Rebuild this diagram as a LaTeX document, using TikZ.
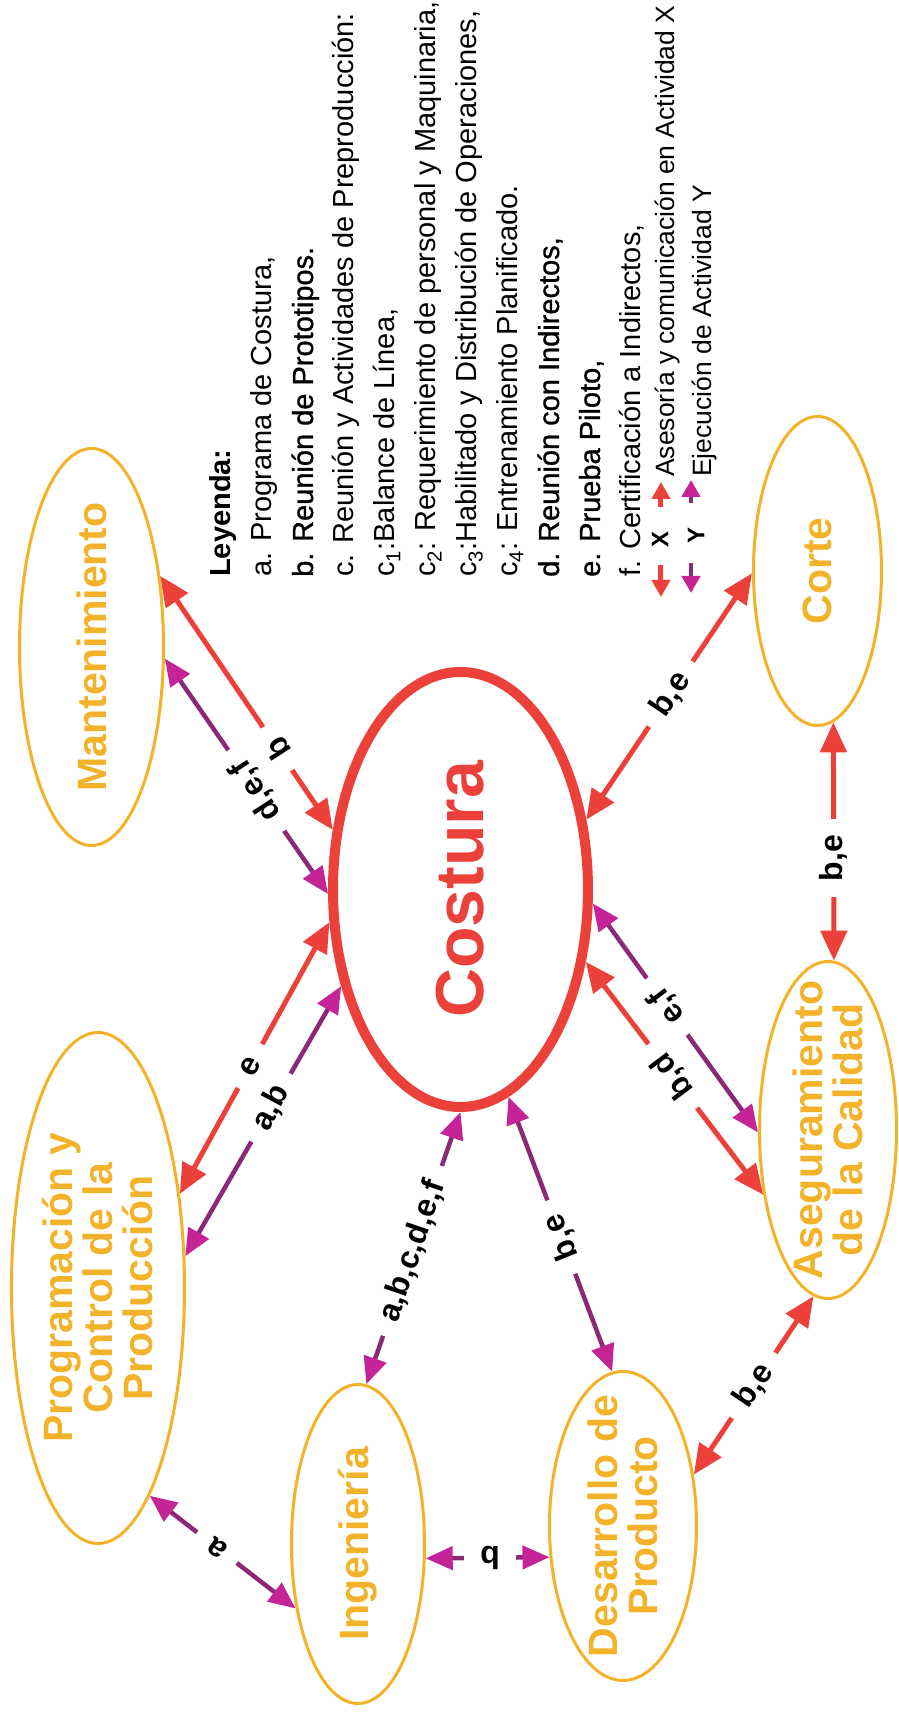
\documentclass[tikz,border=0pt]{standalone}
\usepackage{fontspec}
\setmainfont{Liberation Sans}
\newfontfamily\boldish[FakeBold=1]{Liberation Sans}
\usetikzlibrary{shapes.geometric,arrows.meta}
\definecolor{costred}{RGB}{236,64,58}
\definecolor{linkpurple}{RGB}{140,40,120}
\definecolor{tippurple}{RGB}{196,36,150}
\definecolor{deptorange}{RGB}{242,178,42}
\tikzset{
  dept/.style={ellipse, draw=deptorange, line width=3pt, inner sep=0pt},
  depttext/.style={text=deptorange, font=\fontsize{41}{40}\selectfont\bfseries, align=center},
  xlink/.style={draw=costred, line width=5pt, {Triangle[length=30pt,width=26pt]}-{Triangle[length=30pt,width=26pt]}},
  ylink/.style={draw=linkpurple, line width=4.5pt, {Triangle[length=27pt,width=23pt,color=tippurple]}-{Triangle[length=27pt,width=23pt,color=tippurple]}},
  linktag/.style={fill=white, font=\fontsize{32}{32}\selectfont\bfseries, inner xsep=16pt, inner ysep=0pt},
  legline/.style={anchor=base west, font=\fontsize{29}{41}\selectfont, inner sep=0pt},
  legx/.style={draw=costred, line width=5pt, -{Triangle[length=17pt,width=18pt]}},
  legy/.style={draw=linkpurple, line width=4.5pt, -{Triangle[length=17pt,width=18pt,color=tippurple]}},
}
\begin{document}
\begin{tikzpicture}[x=1pt, y=1pt, rotate=90, transform shape, line join=round]
\useasboundingbox (0,0) rectangle (1713,899);
% areas
\node[dept, minimum width=397pt, minimum height=144pt, label={[depttext]center:Mantenimiento}] (mant) at (1066,807.5) {};
\node[dept, minimum width=511pt, minimum height=173pt, label={[depttext]center:Programación y\\Control de la\\Producción}] (prog) at (425,801) {};
\node[dept, minimum width=319pt, minimum height=133pt, label={[depttext]center:Ingeniería}] (inge) at (169,541) {};
\node[dept, minimum width=309pt, minimum height=147pt, label={[depttext]center:Desarrollo de\\Producto}] (desa) at (187,276) {};
\node[dept, minimum width=337pt, minimum height=137pt, label={[depttext]center:Aseguramiento\\de la Calidad}] (aseg) at (583,71) {};
\node[dept, minimum width=309pt, minimum height=128pt, label={[depttext]center:Corte}] (corte) at (1142,81.5) {};
\node[ellipse, draw=costred, line width=10pt, inner sep=0pt, minimum width=435pt, minimum height=255pt,
      text=costred, font=\fontsize{68}{68}\selectfont\bfseries] (cost) at (823.5,438.5) {Costura};
% links
\draw[xlink] (mant.316) -- node[linktag, pos=.68, rotate=33]{b} (cost.65);
\draw[ylink] (mant.261) -- node[linktag, pos=.56, rotate=33]{d,e,f} (cost.92);
\draw[xlink] (prog.319) -- node[linktag, pos=.47, rotate=-29]{e} (cost.104);
\draw[ylink] (prog.290) -- node[linktag, pos=.55, rotate=-28]{a,b} (cost.129);
\draw[ylink] (inge.357) -- node[linktag, pos=.49, rotate=-19]{a,b,c,d,e,f} (cost.180);
\draw[ylink] (desa.4) -- node[linktag, pos=.49, rotate=22]{b,e} (cost.193);
\draw[xlink] (aseg.135) -- node[linktag, pos=.51, rotate=37]{b,d} (cost.240);
\draw[ylink] (aseg.92) -- node[linktag, pos=.55, rotate=37]{e,f} (cost.264);
\draw[xlink] (corte.92) -- node[linktag, pos=.49, rotate=-34]{b,e} (cost.299);
\draw[xlink] (corte.186) -- node[linktag, pos=.57]{b,e} (aseg.358);
\draw[xlink] (aseg.175) -- node[linktag, pos=.5, rotate=-34]{b,e} (desa.306);
\draw[ylink] (prog.194) -- node[linktag, pos=.46, rotate=54]{a} (inge.136);
\draw[ylink] (inge.258) -- node[linktag, pos=.52, rotate=90]{b} (desa.113);
% legend
\node[legline, font=\fontsize{29}{41}\selectfont\bfseries] (leyenda) at (1136,668) {Leyenda:};
\foreach \i/\t in {1/{a. Programa de Costura,},
                   2/{\boldish b. Reunión de Prototipos.},
                   3/{c. Reunión y Actividades de Preproducción:},
                   4/{c\textsubscript{1}:Balance de Línea,},
                   5/{c\textsubscript{2}: Requerimiento de personal y Maquinaria,},
                   6/{c\textsubscript{3}:Habilitado y Distribución de Operaciones,},
                   7/{c\textsubscript{4}: Entrenamiento Planificado.},
                   8/{\boldish d. Reunión con Indirectos,},
                   9/{\boldish e. Prueba Piloto,},
                   10/{f. Certificación a Indirectos,}}
  \node[legline] (ley\i) at (1136,668-41*\i) {\t};
\node[font=\fontsize{24}{24}\selectfont\bfseries] (legX) at (1173,239) {X};
\node[font=\fontsize{24}{24}\selectfont\bfseries] (legY) at (1177,203) {Y};
\coordinate (xl) at (1148,238);
\coordinate (xr) at (1206,238);
\coordinate (yl) at (1150,208);
\coordinate (yr) at (1210,208);
\draw[legx] (xl) -- ++(-32,0);
\draw[legx] (xr) -- ++(25,0);
\draw[legy] (yl) -- ++(-30,0);
\draw[legy] (yr) -- ++(23,0);
\node[anchor=base west, inner sep=0pt, font=\fontsize{26.5}{30}\selectfont] (legXtext) at (1236,224) {Asesoría y comunicación en Actividad X};
\node[anchor=base west, inner sep=0pt, font=\fontsize{26.5}{30}\selectfont] (legYtext) at (1236,187) {Ejecución de Actividad Y};
\end{tikzpicture}
\end{document}
